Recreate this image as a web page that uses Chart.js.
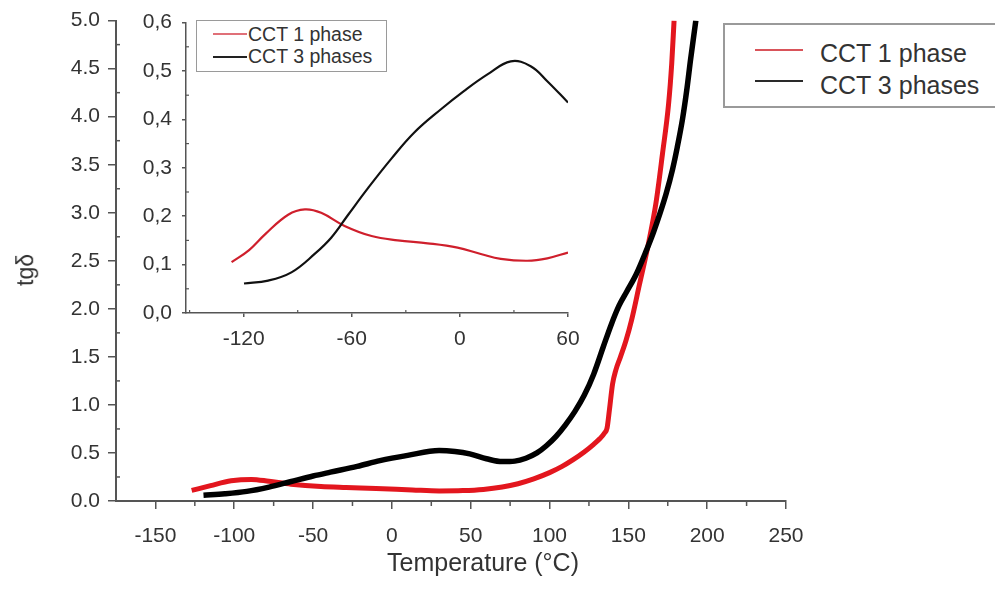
<!DOCTYPE html>
<html><head><meta charset="utf-8">
<script src="https://cdn.jsdelivr.net/npm/chart.js@4/dist/chart.umd.min.js"></script>
<style>
html,body{margin:0;padding:0;background:#fff;}
#wrap{position:relative;width:995px;height:590px;overflow:hidden;font-family:"Liberation Sans",Arial,sans-serif;color:#333;background:#fff;}
canvas{position:absolute;left:0;top:0;}
.box{position:absolute;box-sizing:border-box;background:#fff;}
.txt{position:absolute;white-space:nowrap;line-height:1.2;}
.sw{position:absolute;}
</style></head>
<body><div id="wrap">
<canvas id="main" width="995" height="590"></canvas>
<canvas id="inset" width="600" height="360"></canvas>
<div class="box" style="left:723px;top:23px;width:300px;height:85px;border:2px solid #9a9a9a;"></div>
<div class="sw" style="left:755px;top:49px;width:48px;height:2px;background:#d9545a;"></div>
<div class="sw" style="left:755px;top:80px;width:48px;height:2px;background:#2a2a2a;"></div>
<div class="txt" style="left:820px;top:38px;font-size:25px;">CCT 1 phase</div>
<div class="txt" style="left:820px;top:70px;font-size:25px;">CCT 3 phases</div>
<div class="box" style="left:196px;top:20px;width:191px;height:52px;border:1.5px solid #9a9a9a;"></div>
<div class="sw" style="left:213px;top:33px;width:34px;height:2px;background:#e07078;"></div>
<div class="sw" style="left:213px;top:56px;width:34px;height:1.5px;background:#222;"></div>
<div class="txt" style="left:248px;top:22.5px;font-size:19.5px;">CCT 1 phase</div>
<div class="txt" style="left:248px;top:44.5px;font-size:19.5px;">CCT 3 phases</div>
<div class="txt" style="left:387px;top:547px;font-size:25px;">Temperature (°C)</div>
<div class="txt" style="left:26px;top:270px;font-size:23px;transform:translate(-50%,-50%) rotate(-90deg);">tgδ</div>
</div>
<script>
// ---- main chart data ----
const tempRed = [-127,-115,-102,-89,-78,-64,-45,-29,-10,13,30,45,58,70,80,90,100,108,115,122,128,132,135,136.5,138,140,142,145,148.5,152,157,162,167.5,171.7,175.5,177.5,179];
const tgRed   = [0.11,0.16,0.21,0.225,0.205,0.175,0.15,0.14,0.13,0.115,0.105,0.108,0.12,0.145,0.18,0.23,0.295,0.36,0.43,0.51,0.59,0.65,0.71,0.76,0.95,1.22,1.36,1.5,1.67,1.88,2.25,2.62,3.1,3.62,4.13,4.55,5.0];
const tempBlack = [-119.5,-106,-92,-78,-64.5,-50,-39,-22,-7.6,10,30,40,49.4,60,70,78,85,92,98,104,110,116,122,128,134,139,144,149,155,161,166,170,174,178,181,184.4,187,189.5,192.8];
const tgBlack   = [0.06,0.075,0.1,0.145,0.2,0.26,0.3,0.36,0.42,0.475,0.525,0.515,0.49,0.44,0.41,0.415,0.445,0.5,0.575,0.67,0.79,0.93,1.1,1.32,1.6,1.83,2.03,2.18,2.36,2.59,2.8,2.99,3.2,3.45,3.68,3.98,4.27,4.6,5.0];
// ---- inset data ----
const insetTempRed = [-126.7,-117,-108,-95.3,-86,-77,-64,-49,-34.5,-17.9,-1.3,11.6,22.7,37.4,48.5,60];
const insetTgRed   = [0.105,0.13,0.163,0.203,0.214,0.207,0.18,0.159,0.15,0.144,0.135,0.122,0.112,0.108,0.113,0.125];
const insetTempBlack = [-119.8,-106.4,-93.5,-80.6,-71.3,-62,-51,-38,-25.3,-10.5,2.4,15.3,28.2,39.3,48.5,60];
const insetTgBlack   = [0.061,0.067,0.084,0.122,0.156,0.203,0.258,0.319,0.373,0.421,0.459,0.493,0.52,0.51,0.479,0.435];
// ---- ticks ----
const xTicksMain = [-150,-100,-50,0,50,100,150,200,250];
const xMinorMain = [-125,-75,-25,25,75,125,175,225];
const yTicksMain = [0,0.5,1,1.5,2,2.5,3,3.5,4,4.5,5];
const yMinorMain = [0.25,0.75,1.25,1.75,2.25,2.75,3.25,3.75,4.25,4.75];
const xTicksInset = [-120,-60,0,60];
const xMinorInset = [-150,-90,-30,30];
const yTicksInset = [0,0.1,0.2,0.3,0.4,0.5,0.6];
const yMinorInset = [0.05,0.15,0.25,0.35,0.45,0.55];
const seriesNames = ['CCT 1 phase','CCT 3 phases'];

const FONT = '"Liberation Sans", Arial, sans-serif';
const pts = (xs, ys) => xs.map((x,i)=>({x:x, y:ys[i]}));

const minorTicks = {
  id:'minorTicks',
  afterDraw(chart, args, o){
    const ctx = chart.ctx, xs = chart.scales.x, ys = chart.scales.y;
    ctx.save(); ctx.strokeStyle = o.color; ctx.lineWidth = o.width;
    o.xMinor.forEach(v=>{const p=xs.getPixelForValue(v); ctx.beginPath(); ctx.moveTo(p, xs.top + o.xFrom); ctx.lineTo(p, xs.top + o.xTo); ctx.stroke();});
    o.yMinor.forEach(v=>{const p=ys.getPixelForValue(v); ctx.beginPath(); ctx.moveTo(ys.right + o.yFrom, p); ctx.lineTo(ys.right + o.yTo, p); ctx.stroke();});
    ctx.restore();
  }
};

function axes(cfg){
  return {
    x:{type:'linear', min:cfg.xmin, max:cfg.xmax,
       afterBuildTicks:s=>{s.ticks = cfg.xt.map(v=>({value:v}));},
       afterFit:s=>{s.height = cfg.xh;},
       grid:{drawOnChartArea:false, drawTicks:true, tickLength:cfg.tl, color:'#555', lineWidth:1.5},
       border:{display:true, color:'#555', width:cfg.bw},
       ticks:{font:{size:21, family:FONT}, color:'#333', padding:cfg.xpad, maxRotation:0, autoSkip:false, callback:v=>String(v)}},
    y:{type:'linear', min:cfg.ymin, max:cfg.ymax,
       afterBuildTicks:s=>{s.ticks = cfg.yt.map(v=>({value:v}));},
       afterFit:s=>{s.width = cfg.yw;},
       grid:{drawOnChartArea:false, drawTicks:true, tickLength:cfg.tl, color:'#555', lineWidth:1.5},
       border:{display:true, color:'#555', width:cfg.bw},
       ticks:{font:{size:21, family:FONT}, color:'#333', padding:cfg.ypad, autoSkip:false, callback:cfg.yfmt}}
  };
}

new Chart(document.getElementById('main'), {
  type:'line',
  data:{datasets:[
    {label:seriesNames[0], data:pts(tempRed,tgRed), borderColor:'#e3161e', borderWidth:5, pointRadius:0, cubicInterpolationMode:'monotone', fill:false, order:1},
    {label:seriesNames[1], data:pts(tempBlack,tgBlack), borderColor:'#000', borderWidth:5.5, pointRadius:0, cubicInterpolationMode:'monotone', fill:false, order:0}
  ]},
  options:{
    responsive:false, animation:false, devicePixelRatio:1,
    layout:{padding:{left:0, top:16, right:209, bottom:0}},
    plugins:{legend:{display:false}, tooltip:{enabled:false},
      minorTicks:{color:'#555', width:1.5, xMinor:xMinorMain, yMinor:yMinorMain, xFrom:0, xTo:5, yFrom:0, yTo:4}},
    scales:axes({xmin:-175, xmax:250, ymin:0, ymax:5, xt:xTicksMain, yt:yTicksMain, xh:89, yw:116, tl:8, bw:2, xpad:15, ypad:8, yfmt:v=>Number(v).toFixed(1)})
  },
  plugins:[minorTicks]
});

new Chart(document.getElementById('inset'), {
  type:'line',
  data:{datasets:[
    {label:seriesNames[0], data:pts(insetTempRed,insetTgRed), borderColor:'#cf1f2c', borderWidth:2.2, pointRadius:0, tension:0.4, fill:false, order:1},
    {label:seriesNames[1], data:pts(insetTempBlack,insetTgBlack), borderColor:'#111', borderWidth:2.2, pointRadius:0, tension:0.4, fill:false, order:0}
  ]},
  options:{
    responsive:false, animation:false, devicePixelRatio:1,
    layout:{padding:{left:0, top:17, right:32, bottom:0}},
    plugins:{legend:{display:false}, tooltip:{enabled:false},
      minorTicks:{color:'#555', width:1.2, xMinor:xMinorInset, yMinor:yMinorInset, xFrom:-3, xTo:0, yFrom:0, yTo:3}},
    scales:axes({xmin:-152, xmax:60, ymin:0, ymax:0.6, xt:xTicksInset, yt:yTicksInset, xh:47, yw:186, tl:4, bw:1.5, xpad:10, ypad:10, yfmt:v=>Number(v).toFixed(1).replace('.',',')})
  },
  plugins:[minorTicks]
});
</script>
</body></html>
